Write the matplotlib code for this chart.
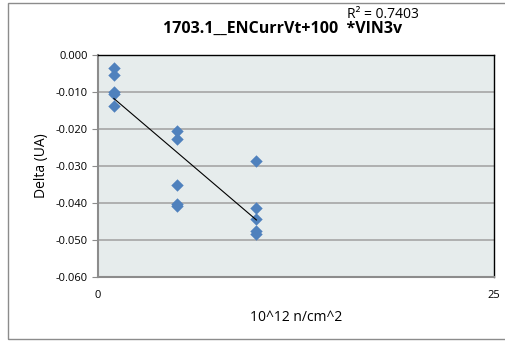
import numpy as np
import matplotlib
matplotlib.use("Agg")
import matplotlib.pyplot as plt
from matplotlib.patches import Rectangle

# Data
fluence = [1, 1, 1, 1, 1, 5, 5, 5, 5, 5, 10, 10, 10, 10, 10]
delta = [-0.0035, -0.0054, -0.0100, -0.0105, -0.0138,
         -0.0205, -0.0228, -0.0351, -0.0404, -0.0409,
         -0.0286, -0.0414, -0.0444, -0.0477, -0.0484]
r2_text = "R² = 0.7403"
title = "1703.1__ENCurrVt+100  *VIN3v"

plt.rcParams['font.family'] = ['Open Sans', 'DejaVu Sans']

fig = plt.figure(figsize=(5.05, 3.46), dpi=100)
fig.patches.append(Rectangle((8 / 505, 7 / 346), 1.2, 336 / 346, transform=fig.transFigure,
                             fill=False, edgecolor='#8c8c8c', linewidth=1.0))
ax = fig.add_axes([98 / 505, 1 - 277 / 346, 396 / 505, 222 / 346])
ax.set_facecolor('#E6ECEC')

ax.scatter(fluence, delta, marker='D', s=40, color='#4F81BD', zorder=3, linewidths=0)

# linear trendline
x = np.array(fluence, dtype=float)
y = np.array(delta)
slope, icept = np.polyfit(x, y, 1)
xs = np.array([x.min(), x.max()])
ax.plot(xs, slope * xs + icept, color='black', linewidth=0.8, zorder=4)

ax.set_xlim(0, 25)
ax.set_ylim(-0.06, 0.0)
ax.set_xticks([0, 25])
ax.set_yticks(np.arange(-0.06, 0.001, 0.01))
ax.set_yticklabels([f"{v:.3f}" for v in np.arange(-0.06, 0.001, 0.01)])
ax.yaxis.grid(True, color='#a6a6a6', linewidth=1.2)
ax.set_axisbelow(True)
ax.tick_params(axis='y', labelsize=8, length=4, color='#8c8c8c', direction='out')
ax.tick_params(axis='x', labelsize=8, length=0, pad=9)
for s in ['left', 'bottom']:
    ax.spines[s].set_color('#8c8c8c')
    ax.spines[s].set_linewidth(1.5)
for s in ['top', 'right']:
    ax.spines[s].set_color('black')
    ax.spines[s].set_linewidth(1.0)

ax.set_ylabel('Delta (UA)', fontsize=10, labelpad=5)
ax.set_xlabel('10^12 n/cm^2', fontsize=10, labelpad=7)
fig.text(283 / 505, 1 - 29 / 346, title, ha='center', va='center', fontsize=11.5, fontweight='bold')
fig.text(383 / 505, 1 - 15 / 346, r2_text, ha='center', va='center', fontsize=10)

fig.savefig('out.png', dpi=100)
